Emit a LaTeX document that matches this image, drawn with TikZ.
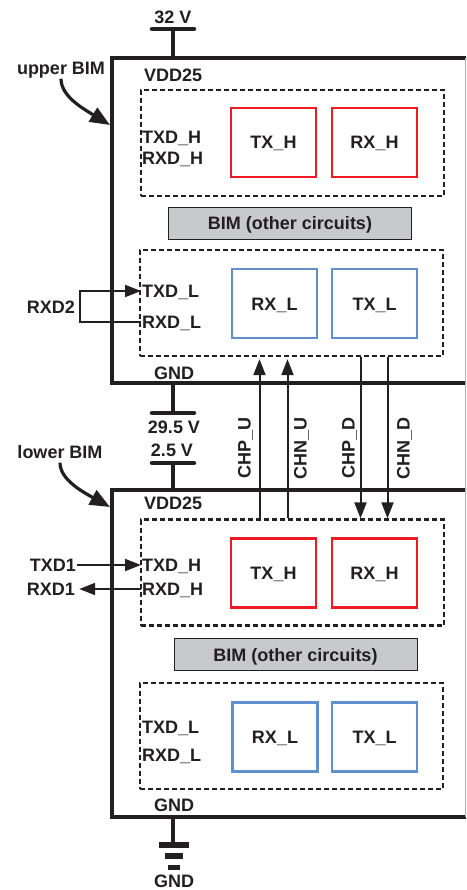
\documentclass[tikz,border=0pt]{standalone}
\usepackage{fontspec}
\setmainfont{Liberation Sans}
\usetikzlibrary{arrows.meta}
\definecolor{ink}{RGB}{35,31,32}
\definecolor{txred}{RGB}{237,28,36}
\definecolor{rxblue}{RGB}{95,143,204}
\definecolor{bimgray}{RGB}{200,201,203}

\begin{document}
\begin{tikzpicture}[x=1pt,y=-1pt,
  txt/.style={font=\fontsize{18}{20}\selectfont\bfseries, text=ink, inner sep=1pt, text height=13pt, text depth=0pt},
  lbl/.style={txt, anchor=west},
  chlbl/.style={txt, rotate=90},
  dbox/.style={draw=ink, line width=2.3pt, dash pattern=on 5pt off 3pt, minimum width=303pt, minimum height=106pt},
  hbox/.style={txt, draw=txred, line width=2.6pt, minimum width=85pt, minimum height=69pt},
  lbox/.style={hbox, draw=rxblue},
  gbox/.style={txt, draw=ink, fill=bimgray, line width=1pt, minimum width=243pt, minimum height=32pt},
  wire/.style={draw=ink, line width=2pt},
  sig/.style={wire, -{Triangle[length=16pt,width=12pt]}},
  rail/.style={draw=ink, line width=4.5pt, line cap=round},
  stem/.style={draw=ink, line width=4.5pt},
  frame/.style={draw=ink, line width=4.6pt},
  pointer/.style={draw=ink, line width=3.2pt, -{Triangle[length=20pt,width=16pt]}}]
\clip (0,0) rectangle (466,890);

% outer frames of the two BIMs
\draw[frame] (470,58) -| (112,383) -- (470,383);
\draw[frame] (470,490) -| (112,817) -- (470,817);
\draw[gray!60, line width=0.6pt] (465,58) -- (465,817);

% upper BIM
\node[lbl] (vddU) at (143,75) {VDD25};
\node[dbox] (dhU) at (292.5,143) {};
\node[hbox] (txHU) at (273.5,142.5) {TX\_H};
\node[hbox] (rxHU) at (374.5,142.5) {RX\_H};
\node[lbl] (txdHU) at (141,137) {TXD\_H};
\node[lbl] (rxdHU) at (141,158) {RXD\_H};
\node[gbox] (gbU) at (290,223.5) {BIM (other circuits)};
\node[dbox] (dlU) at (291.5,303) {};
\node[lbox] (rxLU) at (274.5,303.5) {RX\_L};
\node[lbox] (txLU) at (374.5,303.5) {TX\_L};
\node[lbl] (txdLU) at (141,291) {TXD\_L};
\node[lbl] (rxdLU) at (141,322) {RXD\_L};
\node[txt] (gndU) at (174,373) {GND};

% lower BIM
\node[lbl] (vddL) at (143,503) {VDD25};
\node[dbox] (dhL) at (292.5,572.5) {};
\node[hbox] (txHL) at (273.5,573) {TX\_H};
\node[hbox] (rxHL) at (374.5,573) {RX\_H};
\node[lbl] (txdHL) at (141,565) {TXD\_H};
\node[lbl] (rxdHL) at (141,589) {RXD\_H};
\node[gbox] (gbL) at (295.5,654.5) {BIM (other circuits)};
\node[dbox] (dlL) at (291.5,736) {};
\node[lbox] (rxLL) at (275,737) {RX\_L};
\node[lbox] (txLL) at (374.5,737) {TX\_L};
\node[lbl] (txdLL) at (141,727) {TXD\_L};
\node[lbl] (rxdLL) at (141,755) {RXD\_L};
\node[txt] (gndL) at (174,805) {GND};

% supplies
\node[txt] (v32) at (173,17) {32 V};
\coordinate (barT) at (173,29);
\coordinate (topU) at (173,58);
\draw[rail] ([xshift=-21pt]barT) -- ([xshift=21pt]barT);
\draw[stem] (barT) -- (topU);
\coordinate (botU) at (173,383);
\coordinate (barM) at (173,413);
\draw[stem] (botU) -- (barM);
\draw[rail] ([xshift=-21pt]barM) -- ([xshift=21pt]barM);
\node[txt] (v295) at (174,427) {29.5 V};
\node[txt] (v25) at (172,450) {2.5 V};
\coordinate (barL) at (173,463);
\coordinate (topL) at (173,490);
\draw[rail] ([xshift=-21pt]barL) -- ([xshift=21pt]barL);
\draw[stem] (barL) -- (topL);
\coordinate (botL) at (173,817);
\draw[stem] (botL) -- (173,844);
\fill[ink] (159,842) rectangle (189,847.5);
\fill[ink] (165,853) rectangle (183,858.5);
\fill[ink] (168,865) rectangle (180,870);
\node[txt] (gnd) at (174,881) {GND};

% BIM pointers
\node[txt] (bimU) at (61,68) {upper BIM};
\coordinate (tipU) at (110,125);
\draw[pointer, shorten <=3pt] (bimU.south) .. controls (61,96) and (82,108) .. (tipU);
\node[txt] (bimL) at (60,452) {lower BIM};
\coordinate (tipL) at (110,507);
\draw[pointer, shorten <=3pt] (bimL.south) .. controls (60,479) and (81,491) .. (tipL);

% channels between the BIMs
\coordinate (chpU) at ([xshift=-15pt]rxLU.south);
\coordinate (chnU) at ([xshift=13pt]rxLU.south);
\coordinate (chpD) at ([xshift=-14pt]txLU.south);
\coordinate (chnD) at ([xshift=13pt]txLU.south);
\foreach \c in {chpU,chnU}
  \draw[sig, shorten >=2pt] (\c |- dhL.north) -- (\c |- dlU.south);
\foreach \c in {chpD,chnD}
  \draw[sig] (\c |- dlU.south) -- (\c |- dhL.north);
\node[chlbl] (lchpU) at (244,448) {CHP\_U};
\node[chlbl] (lchnU) at (300,448) {CHN\_U};
\node[chlbl] (lchpD) at (348,448) {CHP\_D};
\node[chlbl] (lchnD) at (403,448) {CHN\_D};

% data lines
\node[txt] (rxd2) at (51,307) {RXD2};
\draw[sig] (rxdLU.west) -- ++(-61,0) |- (txdLU.west);
\node[txt] (txd1) at (53,565) {TXD1};
\draw[sig] (txd1.east) -- (txdHL.west);
\node[txt] (rxd1) at (51,589) {RXD1};
\draw[sig, shorten >=3pt] (rxdHL.west) -- (rxd1.east);
\end{tikzpicture}
\end{document}
